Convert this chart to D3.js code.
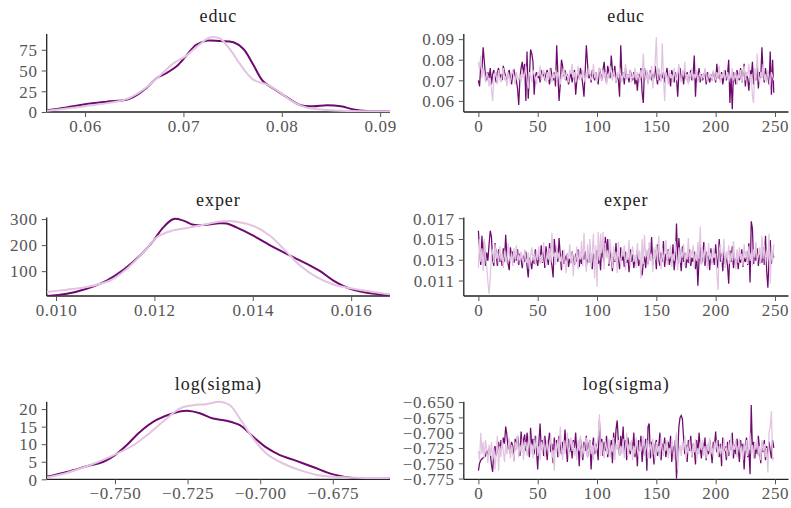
<!DOCTYPE html>
<html><head><meta charset="utf-8">
<script src="https://cdn.jsdelivr.net/npm/d3@7"></script>
<style>
html,body{margin:0;padding:0;background:#fff;}
svg{display:block;}
text{font-family:"Liberation Serif","Times New Roman",serif;}
</style></head>
<body>
<svg id="chart" width="791" height="508"></svg>
<script>
// ---------- DATA ----------
const varNames = ["educ", "exper", "log(sigma)"];
const chainColors = ["#6e0a6e", "#e2c4e2"];

// density curves [x, density]
const kdeEducC0 = [[0.0561,2],[0.0581,5.4],[0.0600,9.3],[0.0622,12.4],[0.0642,14.8],[0.0649,17.9],[0.0663,29.5],[0.0673,41],[0.0683,47],[0.0693,55],[0.0703,68],[0.0713,81],[0.0724,86],[0.0737,85.5],[0.0751,84],[0.0761,76],[0.0771,57],[0.0781,37],[0.0795,25.6],[0.0805,17.9],[0.0819,8.2],[0.0832,7],[0.0846,8.2],[0.0860,7],[0.0873,3.1],[0.0887,1.2],[0.0911,0.8]];
const kdeEducC1 = [[0.0561,1.6],[0.0600,7],[0.0642,15.5],[0.0660,27.6],[0.0677,45],[0.0690,58.7],[0.0703,68],[0.0717,82],[0.0727,89.8],[0.0737,88.6],[0.0747,76],[0.0758,57],[0.0771,39],[0.0785,33],[0.0798,23.7],[0.0812,12],[0.0825,5.4],[0.0846,2.3],[0.0870,1.2],[0.0911,0.8]];
const kdeExperC0 = [[0.00981,4.5],[0.01022,13],[0.01062,32.5],[0.01103,64],[0.01137,105],[0.01171,160],[0.01198,217],[0.01218,268],[0.01239,300],[0.01259,294],[0.01279,278],[0.01300,277],[0.01327,283],[0.01347,283],[0.01367,268],[0.01401,236],[0.01442,192],[0.01483,153],[0.01510,128],[0.01537,100],[0.01564,64],[0.01598,32.5],[0.01632,17],[0.01679,7]];
const kdeExperC1 = [[0.00981,20],[0.01022,29],[0.01062,39],[0.01110,64],[0.01144,109],[0.01178,173],[0.01205,230],[0.01232,253],[0.01266,266],[0.01300,278],[0.01334,291],[0.01367,290],[0.01401,274],[0.01435,236],[0.01469,173],[0.01496,122],[0.01530,77],[0.01564,49],[0.01605,32.5],[0.01645,20],[0.01679,11]];
const kdeSigmaC0 = [[-0.7735,0.7],[-0.7666,2.1],[-0.7597,3.7],[-0.7540,5],[-0.7500,6.9],[-0.7460,9.7],[-0.7414,13.5],[-0.7357,16.9],[-0.7299,18.8],[-0.7253,19.5],[-0.7208,18.8],[-0.7162,17.3],[-0.7116,16.7],[-0.7070,15.4],[-0.7024,12.1],[-0.6978,9],[-0.6932,6.9],[-0.6887,5.6],[-0.6818,3.5],[-0.6749,1.4],[-0.6680,0.4],[-0.6554,0.2]];
const kdeSigmaC1 = [[-0.7735,0.5],[-0.7666,1.8],[-0.7597,3.7],[-0.7517,6.4],[-0.7437,9.7],[-0.7380,13.2],[-0.7322,17.3],[-0.7276,20.2],[-0.7230,21.1],[-0.7185,21.4],[-0.7139,22.1],[-0.7104,21.1],[-0.7070,17.3],[-0.7024,11.6],[-0.6978,7.3],[-0.6921,4.5],[-0.6864,2.6],[-0.6795,1.1],[-0.6691,0.5],[-0.6554,0.3]];

// trace values (draw 0..249) per chain
const traceEducC0 = [0.070,0.067,0.078,0.075,0.086,0.079,0.072,0.070,0.074,0.071,0.076,0.068,0.073,0.075,0.072,0.069,0.074,0.076,0.071,0.073,0.070,0.077,0.074,0.072,0.069,0.073,0.075,0.071,0.068,0.074,0.075,0.072,0.070,0.066,0.058,0.071,0.076,0.079,0.073,0.078,0.060,0.084,0.061,0.072,0.085,0.083,0.079,0.063,0.072,0.074,0.071,0.073,0.069,0.075,0.072,0.074,0.070,0.073,0.075,0.071,0.068,0.076,0.072,0.070,0.074,0.067,0.087,0.073,0.060,0.068,0.080,0.077,0.072,0.075,0.070,0.073,0.068,0.071,0.074,0.069,0.072,0.075,0.063,0.070,0.073,0.071,0.076,0.072,0.068,0.062,0.074,0.087,0.078,0.071,0.073,0.069,0.075,0.072,0.070,0.074,0.071,0.068,0.076,0.073,0.070,0.075,0.079,0.072,0.069,0.077,0.074,0.071,0.082,0.075,0.072,0.077,0.069,0.073,0.070,0.062,0.087,0.072,0.074,0.068,0.076,0.071,0.073,0.069,0.075,0.072,0.070,0.074,0.068,0.072,0.065,0.073,0.070,0.076,0.064,0.059,0.076,0.071,0.074,0.069,0.072,0.075,0.070,0.073,0.071,0.077,0.072,0.068,0.075,0.070,0.073,0.071,0.074,0.069,0.072,0.076,0.070,0.073,0.067,0.075,0.072,0.069,0.074,0.071,0.062,0.073,0.076,0.070,0.073,0.068,0.075,0.071,0.074,0.069,0.072,0.075,0.070,0.073,0.082,0.062,0.074,0.071,0.076,0.069,0.073,0.070,0.072,0.075,0.068,0.074,0.071,0.069,0.073,0.070,0.074,0.072,0.069,0.078,0.071,0.073,0.070,0.074,0.068,0.072,0.075,0.070,0.073,0.080,0.059,0.072,0.056,0.074,0.071,0.068,0.075,0.072,0.070,0.076,0.069,0.073,0.078,0.067,0.074,0.071,0.065,0.075,0.072,0.079,0.068,0.073,0.070,0.077,0.066,0.074,0.071,0.086,0.073,0.069,0.076,0.070,0.074,0.068,0.084,0.063,0.080,0.064];
const traceEducC1 = [0.079,0.075,0.082,0.071,0.076,0.073,0.069,0.074,0.072,0.067,0.071,0.066,0.060,0.070,0.074,0.072,0.068,0.075,0.071,0.069,0.073,0.076,0.070,0.072,0.067,0.074,0.071,0.069,0.073,0.075,0.071,0.068,0.074,0.072,0.070,0.073,0.069,0.075,0.071,0.073,0.077,0.070,0.066,0.074,0.072,0.069,0.075,0.073,0.071,0.068,0.074,0.072,0.077,0.070,0.073,0.075,0.071,0.069,0.074,0.070,0.076,0.072,0.069,0.073,0.071,0.075,0.070,0.074,0.072,0.068,0.073,0.071,0.076,0.070,0.074,0.072,0.069,0.075,0.073,0.078,0.071,0.074,0.069,0.072,0.077,0.070,0.073,0.071,0.075,0.072,0.069,0.074,0.071,0.076,0.073,0.070,0.072,0.078,0.071,0.074,0.069,0.073,0.076,0.072,0.070,0.075,0.071,0.074,0.068,0.073,0.071,0.077,0.073,0.070,0.075,0.072,0.069,0.074,0.071,0.076,0.072,0.069,0.074,0.071,0.078,0.070,0.073,0.071,0.075,0.069,0.073,0.071,0.076,0.070,0.074,0.072,0.069,0.075,0.071,0.083,0.073,0.070,0.075,0.068,0.074,0.071,0.077,0.066,0.073,0.079,0.091,0.070,0.076,0.072,0.069,0.088,0.071,0.060,0.074,0.072,0.068,0.075,0.071,0.073,0.069,0.076,0.072,0.070,0.074,0.078,0.071,0.069,0.075,0.072,0.079,0.070,0.073,0.068,0.074,0.071,0.076,0.070,0.073,0.071,0.075,0.069,0.072,0.074,0.070,0.073,0.071,0.076,0.072,0.069,0.074,0.071,0.073,0.070,0.075,0.072,0.070,0.074,0.071,0.077,0.069,0.073,0.071,0.075,0.070,0.072,0.074,0.069,0.073,0.071,0.076,0.070,0.072,0.074,0.068,0.073,0.071,0.075,0.069,0.073,0.077,0.070,0.074,0.072,0.078,0.069,0.073,0.062,0.059,0.076,0.070,0.083,0.072,0.069,0.074,0.071,0.078,0.070,0.073,0.069,0.075,0.071,0.067,0.074,0.072,0.070];
const traceExperC0 = [0.0158,0.0140,0.0125,0.0153,0.0131,0.0148,0.0124,0.0137,0.0129,0.0145,0.0158,0.0152,0.0130,0.0124,0.0146,0.0135,0.0124,0.0140,0.0128,0.0133,0.0124,0.0141,0.0128,0.0154,0.0134,0.0126,0.0120,0.0142,0.0131,0.0138,0.0127,0.0135,0.0129,0.0140,0.0125,0.0136,0.0130,0.0122,0.0134,0.0128,0.0138,0.0124,0.0113,0.0132,0.0127,0.0121,0.0135,0.0126,0.0140,0.0130,0.0124,0.0136,0.0128,0.0144,0.0127,0.0138,0.0122,0.0143,0.0132,0.0125,0.0146,0.0131,0.0124,0.0113,0.0150,0.0137,0.0141,0.0128,0.0151,0.0135,0.0120,0.0139,0.0126,0.0134,0.0129,0.0136,0.0123,0.0131,0.0127,0.0138,0.0130,0.0125,0.0136,0.0128,0.0140,0.0123,0.0133,0.0126,0.0135,0.0130,0.0138,0.0124,0.0131,0.0127,0.0143,0.0129,0.0121,0.0136,0.0130,0.0125,0.0139,0.0126,0.0134,0.0120,0.0146,0.0133,0.0128,0.0152,0.0137,0.0150,0.0124,0.0141,0.0130,0.0119,0.0137,0.0128,0.0146,0.0125,0.0133,0.0121,0.0142,0.0129,0.0135,0.0123,0.0138,0.0127,0.0132,0.0118,0.0140,0.0128,0.0135,0.0122,0.0131,0.0126,0.0139,0.0124,0.0130,0.0120,0.0115,0.0127,0.0133,0.0122,0.0138,0.0126,0.0141,0.0129,0.0152,0.0125,0.0134,0.0139,0.0121,0.0145,0.0130,0.0124,0.0137,0.0128,0.0148,0.0123,0.0136,0.0129,0.0140,0.0125,0.0133,0.0127,0.0145,0.0120,0.0131,0.0165,0.0126,0.0151,0.0132,0.0119,0.0143,0.0128,0.0137,0.0122,0.0134,0.0127,0.0140,0.0124,0.0132,0.0128,0.0138,0.0121,0.0135,0.0105,0.0130,0.0144,0.0126,0.0133,0.0147,0.0124,0.0138,0.0129,0.0134,0.0120,0.0141,0.0127,0.0132,0.0125,0.0145,0.0130,0.0122,0.0150,0.0128,0.0136,0.0119,0.0142,0.0126,0.0133,0.0124,0.0107,0.0139,0.0128,0.0143,0.0122,0.0131,0.0126,0.0136,0.0121,0.0134,0.0127,0.0140,0.0123,0.0132,0.0128,0.0138,0.0125,0.0146,0.0108,0.0167,0.0160,0.0126,0.0138,0.0129,0.0141,0.0124,0.0135,0.0130,0.0127,0.0142,0.0125,0.0153,0.0119,0.0103,0.0131,0.0149,0.0126,0.0137,0.0132];
const traceExperC1 = [0.0122,0.0150,0.0128,0.0141,0.0119,0.0150,0.0133,0.0124,0.0109,0.0097,0.0112,0.0135,0.0140,0.0127,0.0145,0.0131,0.0138,0.0125,0.0143,0.0129,0.0136,0.0122,0.0139,0.0131,0.0127,0.0146,0.0134,0.0128,0.0137,0.0124,0.0141,0.0130,0.0144,0.0126,0.0135,0.0129,0.0138,0.0132,0.0125,0.0140,0.0131,0.0127,0.0137,0.0121,0.0134,0.0142,0.0129,0.0136,0.0125,0.0139,0.0130,0.0143,0.0126,0.0135,0.0128,0.0147,0.0132,0.0124,0.0138,0.0130,0.0141,0.0127,0.0156,0.0133,0.0136,0.0125,0.0144,0.0131,0.0137,0.0128,0.0134,0.0122,0.0140,0.0129,0.0117,0.0136,0.0131,0.0145,0.0126,0.0138,0.0114,0.0133,0.0127,0.0143,0.0121,0.0139,0.0130,0.0148,0.0124,0.0156,0.0131,0.0118,0.0145,0.0127,0.0150,0.0123,0.0138,0.0155,0.0112,0.0144,0.0104,0.0157,0.0129,0.0155,0.0136,0.0157,0.0121,0.0146,0.0132,0.0139,0.0126,0.0150,0.0134,0.0122,0.0143,0.0129,0.0138,0.0117,0.0147,0.0131,0.0125,0.0140,0.0133,0.0144,0.0120,0.0136,0.0130,0.0149,0.0123,0.0137,0.0143,0.0128,0.0135,0.0122,0.0146,0.0131,0.0139,0.0112,0.0150,0.0126,0.0154,0.0133,0.0140,0.0124,0.0147,0.0129,0.0136,0.0118,0.0142,0.0130,0.0145,0.0127,0.0153,0.0134,0.0121,0.0141,0.0128,0.0137,0.0149,0.0125,0.0139,0.0131,0.0144,0.0123,0.0136,0.0129,0.0148,0.0134,0.0120,0.0142,0.0127,0.0138,0.0132,0.0145,0.0124,0.0137,0.0130,0.0151,0.0126,0.0139,0.0133,0.0144,0.0122,0.0138,0.0129,0.0147,0.0131,0.0162,0.0125,0.0140,0.0128,0.0143,0.0134,0.0121,0.0146,0.0130,0.0137,0.0125,0.0141,0.0132,0.0136,0.0118,0.0101,0.0139,0.0145,0.0127,0.0134,0.0150,0.0122,0.0138,0.0131,0.0144,0.0126,0.0137,0.0129,0.0148,0.0133,0.0121,0.0140,0.0127,0.0142,0.0130,0.0136,0.0124,0.0145,0.0131,0.0138,0.0126,0.0143,0.0129,0.0137,0.0124,0.0140,0.0132,0.0147,0.0128,0.0135,0.0142,0.0126,0.0153,0.0131,0.0144,0.0125,0.0139,0.0130,0.0155,0.0107,0.0143,0.0128,0.0145];
const traceSigmaC0 = [-0.762,-0.750,-0.745,-0.743,-0.741,-0.740,-0.738,-0.729,-0.736,-0.726,-0.733,-0.752,-0.764,-0.731,-0.722,-0.737,-0.728,-0.715,-0.733,-0.712,-0.725,-0.708,-0.718,-0.690,-0.703,-0.727,-0.712,-0.735,-0.715,-0.722,-0.745,-0.710,-0.728,-0.705,-0.720,-0.738,-0.698,-0.725,-0.712,-0.703,-0.730,-0.700,-0.718,-0.740,-0.692,-0.722,-0.710,-0.735,-0.705,-0.730,-0.760,-0.715,-0.685,-0.728,-0.712,-0.738,-0.705,-0.722,-0.745,-0.715,-0.700,-0.732,-0.718,-0.750,-0.708,-0.727,-0.712,-0.740,-0.705,-0.720,-0.735,-0.715,-0.728,-0.695,-0.722,-0.748,-0.710,-0.732,-0.718,-0.742,-0.712,-0.725,-0.700,-0.735,-0.718,-0.755,-0.710,-0.728,-0.745,-0.715,-0.730,-0.705,-0.740,-0.720,-0.712,-0.760,-0.725,-0.708,-0.735,-0.718,-0.728,-0.745,-0.680,-0.722,-0.710,-0.738,-0.715,-0.730,-0.705,-0.740,-0.720,-0.732,-0.712,-0.750,-0.700,-0.728,-0.695,-0.680,-0.715,-0.738,-0.705,-0.725,-0.690,-0.732,-0.712,-0.745,-0.708,-0.722,-0.735,-0.715,-0.728,-0.700,-0.740,-0.718,-0.755,-0.712,-0.730,-0.705,-0.748,-0.720,-0.735,-0.710,-0.762,-0.690,-0.685,-0.742,-0.715,-0.728,-0.752,-0.720,-0.712,-0.738,-0.722,-0.700,-0.745,-0.718,-0.730,-0.708,-0.740,-0.725,-0.715,-0.732,-0.705,-0.748,-0.722,-0.738,-0.712,-0.775,-0.735,-0.690,-0.675,-0.672,-0.678,-0.710,-0.735,-0.720,-0.748,-0.712,-0.730,-0.705,-0.740,-0.718,-0.728,-0.752,-0.712,-0.735,-0.700,-0.725,-0.742,-0.715,-0.730,-0.708,-0.745,-0.720,-0.735,-0.712,-0.728,-0.750,-0.715,-0.722,-0.698,-0.732,-0.712,-0.740,-0.718,-0.755,-0.708,-0.730,-0.722,-0.745,-0.715,-0.738,-0.712,-0.728,-0.700,-0.742,-0.720,-0.735,-0.710,-0.725,-0.748,-0.712,-0.730,-0.718,-0.760,-0.722,-0.708,-0.740,-0.728,-0.768,-0.655,-0.730,-0.715,-0.742,-0.720,-0.735,-0.705,-0.728,-0.750,-0.718,-0.732,-0.712,-0.745,-0.722,-0.738,-0.715,-0.730,-0.742,-0.712,-0.725];
const traceSigmaC1 = [-0.730,-0.745,-0.700,-0.735,-0.715,-0.742,-0.712,-0.728,-0.750,-0.720,-0.738,-0.715,-0.745,-0.725,-0.760,-0.735,-0.705,-0.762,-0.722,-0.740,-0.712,-0.730,-0.748,-0.718,-0.735,-0.725,-0.708,-0.742,-0.720,-0.732,-0.748,-0.715,-0.728,-0.705,-0.740,-0.720,-0.732,-0.710,-0.745,-0.722,-0.715,-0.738,-0.725,-0.700,-0.735,-0.718,-0.742,-0.712,-0.728,-0.705,-0.738,-0.722,-0.745,-0.715,-0.730,-0.708,-0.740,-0.725,-0.712,-0.735,-0.720,-0.705,-0.742,-0.728,-0.762,-0.715,-0.732,-0.710,-0.738,-0.690,-0.725,-0.745,-0.712,-0.735,-0.718,-0.700,-0.740,-0.722,-0.708,-0.730,-0.715,-0.738,-0.725,-0.745,-0.712,-0.730,-0.705,-0.742,-0.720,-0.735,-0.718,-0.708,-0.740,-0.725,-0.712,-0.735,-0.720,-0.745,-0.710,-0.730,-0.722,-0.705,-0.670,-0.738,-0.715,-0.728,-0.742,-0.712,-0.725,-0.735,-0.710,-0.740,-0.720,-0.732,-0.708,-0.745,-0.718,-0.728,-0.712,-0.738,-0.722,-0.735,-0.710,-0.742,-0.725,-0.700,-0.738,-0.718,-0.730,-0.712,-0.745,-0.722,-0.735,-0.708,-0.728,-0.740,-0.715,-0.732,-0.720,-0.705,-0.738,-0.725,-0.712,-0.742,-0.730,-0.718,-0.735,-0.710,-0.728,-0.745,-0.715,-0.732,-0.722,-0.740,-0.708,-0.728,-0.738,-0.718,-0.730,-0.712,-0.742,-0.725,-0.735,-0.710,-0.728,-0.745,-0.718,-0.700,-0.760,-0.732,-0.720,-0.738,-0.715,-0.730,-0.705,-0.742,-0.722,-0.735,-0.712,-0.728,-0.740,-0.718,-0.732,-0.710,-0.745,-0.725,-0.735,-0.715,-0.728,-0.712,-0.738,-0.722,-0.742,-0.718,-0.730,-0.708,-0.735,-0.725,-0.740,-0.715,-0.728,-0.712,-0.738,-0.722,-0.735,-0.718,-0.745,-0.710,-0.730,-0.725,-0.742,-0.715,-0.732,-0.705,-0.738,-0.720,-0.728,-0.712,-0.740,-0.725,-0.710,-0.735,-0.722,-0.745,-0.718,-0.730,-0.712,-0.738,-0.725,-0.700,-0.735,-0.720,-0.742,-0.715,-0.728,-0.710,-0.738,-0.722,-0.745,-0.712,-0.730,-0.718,-0.740,-0.725,-0.765,-0.700,-0.690,-0.665,-0.745,-0.740];

// axis domains and ticks
const kdeXDomains = [[0.0561, 0.0910], [0.00981, 0.01679], [-0.7735, -0.6553]];
const kdeYDomains = [[0, 94], [4.6, 306], [0, 22.1]];
const kdeXTicks = [[0.06, 0.07, 0.08, 0.09], [0.010, 0.012, 0.014, 0.016], [-0.750, -0.725, -0.700, -0.675]];
const kdeXFormats = [".2f", ".3f", ".3f"];
const kdeYTicks = [[0, 25, 50, 75], [100, 200, 300], [0, 5, 10, 15, 20]];
const traceXDomain = [-12.3, 261.4];
const traceXTicks = [0, 50, 100, 150, 200, 250];
const traceYDomains = [[0.0546, 0.0925], [0.00951, 0.01707], [-0.7762, -0.6494]];
const traceYTicks = [[0.06, 0.07, 0.08, 0.09], [0.011, 0.013, 0.015, 0.017], [-0.775, -0.750, -0.725, -0.700, -0.675, -0.650]];
const traceYFormats = [".2f", ".3f", ".3f"];

const kdeData = [[kdeEducC0, kdeEducC1], [kdeExperC0, kdeExperC1], [kdeSigmaC0, kdeSigmaC1]];
const traceData = [[traceEducC0, traceEducC1], [traceExperC0, traceExperC1], [traceSigmaC0, traceSigmaC1]];

// ---------- LAYOUT ----------
const svg = d3.select("#chart");
const leftX = [46.7, 390];
const rightX = [463.8, 788.5];
const rowY = [[34, 112], [217.5, 296], [401.7, 479.3]];

function styleAxis(g) {
  g.attr("font-family", null).attr("font-size", null);
  g.selectAll(".domain").attr("stroke", "#222").attr("stroke-width", 1.3);
  g.selectAll(".tick line").attr("stroke", "#555").attr("stroke-width", 1);
  g.selectAll(".tick text").attr("fill", "#555")
    .style("font-size", "17px").style("letter-spacing", "0.7px")
    .style("font-family", '"Liberation Serif", "Times New Roman", serif');
}

function panel(x0x1, y0y1, xScaleDomain, yDomain, xTicks, xFmt, yTicks, yFmt, title) {
  const x = d3.scaleLinear().domain(xScaleDomain).range(x0x1);
  const y = d3.scaleLinear().domain(yDomain).range([y0y1[1], y0y1[0]]);
  const gx = svg.append("g").attr("transform", `translate(0,${y0y1[1]})`)
    .call(d3.axisBottom(x).tickValues(xTicks).tickFormat(xFmt ? d3.format(xFmt) : d3.format("d")).tickSize(5).tickSizeOuter(0).tickPadding(3));
  gx.select(".domain").attr("d", `M${x0x1[0]},0H${x0x1[1]}`);
  styleAxis(gx);
  const gy = svg.append("g").attr("transform", `translate(${x0x1[0]},0)`)
    .call(d3.axisLeft(y).tickValues(yTicks).tickFormat(d3.format(yFmt)).tickSize(5).tickSizeOuter(0).tickPadding(4));
  gy.select(".domain").attr("d", `M0,${y0y1[1]}V${y0y1[0]}`);
  styleAxis(gy);
  gy.selectAll(".tick text").attr("dy", "0.34em");
  svg.append("text").attr("x", (x0x1[0] + x0x1[1]) / 2).attr("y", y0y1[0] - 12)
    .attr("text-anchor", "middle").attr("fill", "#222")
    .style("font-size", "18px").style("letter-spacing", "0.9px").text(title);
  return { x, y };
}

for (let r = 0; r < 3; r++) {
  // density panel
  const L = panel(leftX, rowY[r], kdeXDomains[r], kdeYDomains[r], kdeXTicks[r], kdeXFormats[r], kdeYTicks[r], "d", varNames[r]);
  const clipId = "clipL" + r;
  svg.append("clipPath").attr("id", clipId).append("rect")
    .attr("x", leftX[0]).attr("y", rowY[r][0] - 5).attr("width", leftX[1] - leftX[0]).attr("height", rowY[r][1] - rowY[r][0] + 5);
  const kLine = d3.line().x(d => L.x(d[0])).y(d => L.y(d[1])).curve(d3.curveCatmullRom.alpha(0.5));
  kdeData[r].forEach((c, ci) => {
    svg.append("path").attr("clip-path", `url(#${clipId})`).attr("d", kLine(c)).attr("fill", "none")
      .attr("stroke", chainColors[ci]).attr("stroke-width", 2);
  });
  // trace panel
  const R = panel(rightX, rowY[r], traceXDomain, traceYDomains[r], traceXTicks, null, traceYTicks[r], traceYFormats[r], varNames[r]);
  const tLine = d3.line().x((d, i) => R.x(i)).y(d => R.y(d));
  traceData[r].forEach((c, ci) => {
    svg.append("path").attr("d", tLine(c)).attr("fill", "none")
      .attr("stroke", chainColors[ci]).attr("stroke-width", 1.25);
  });
}
</script>
</body></html>
